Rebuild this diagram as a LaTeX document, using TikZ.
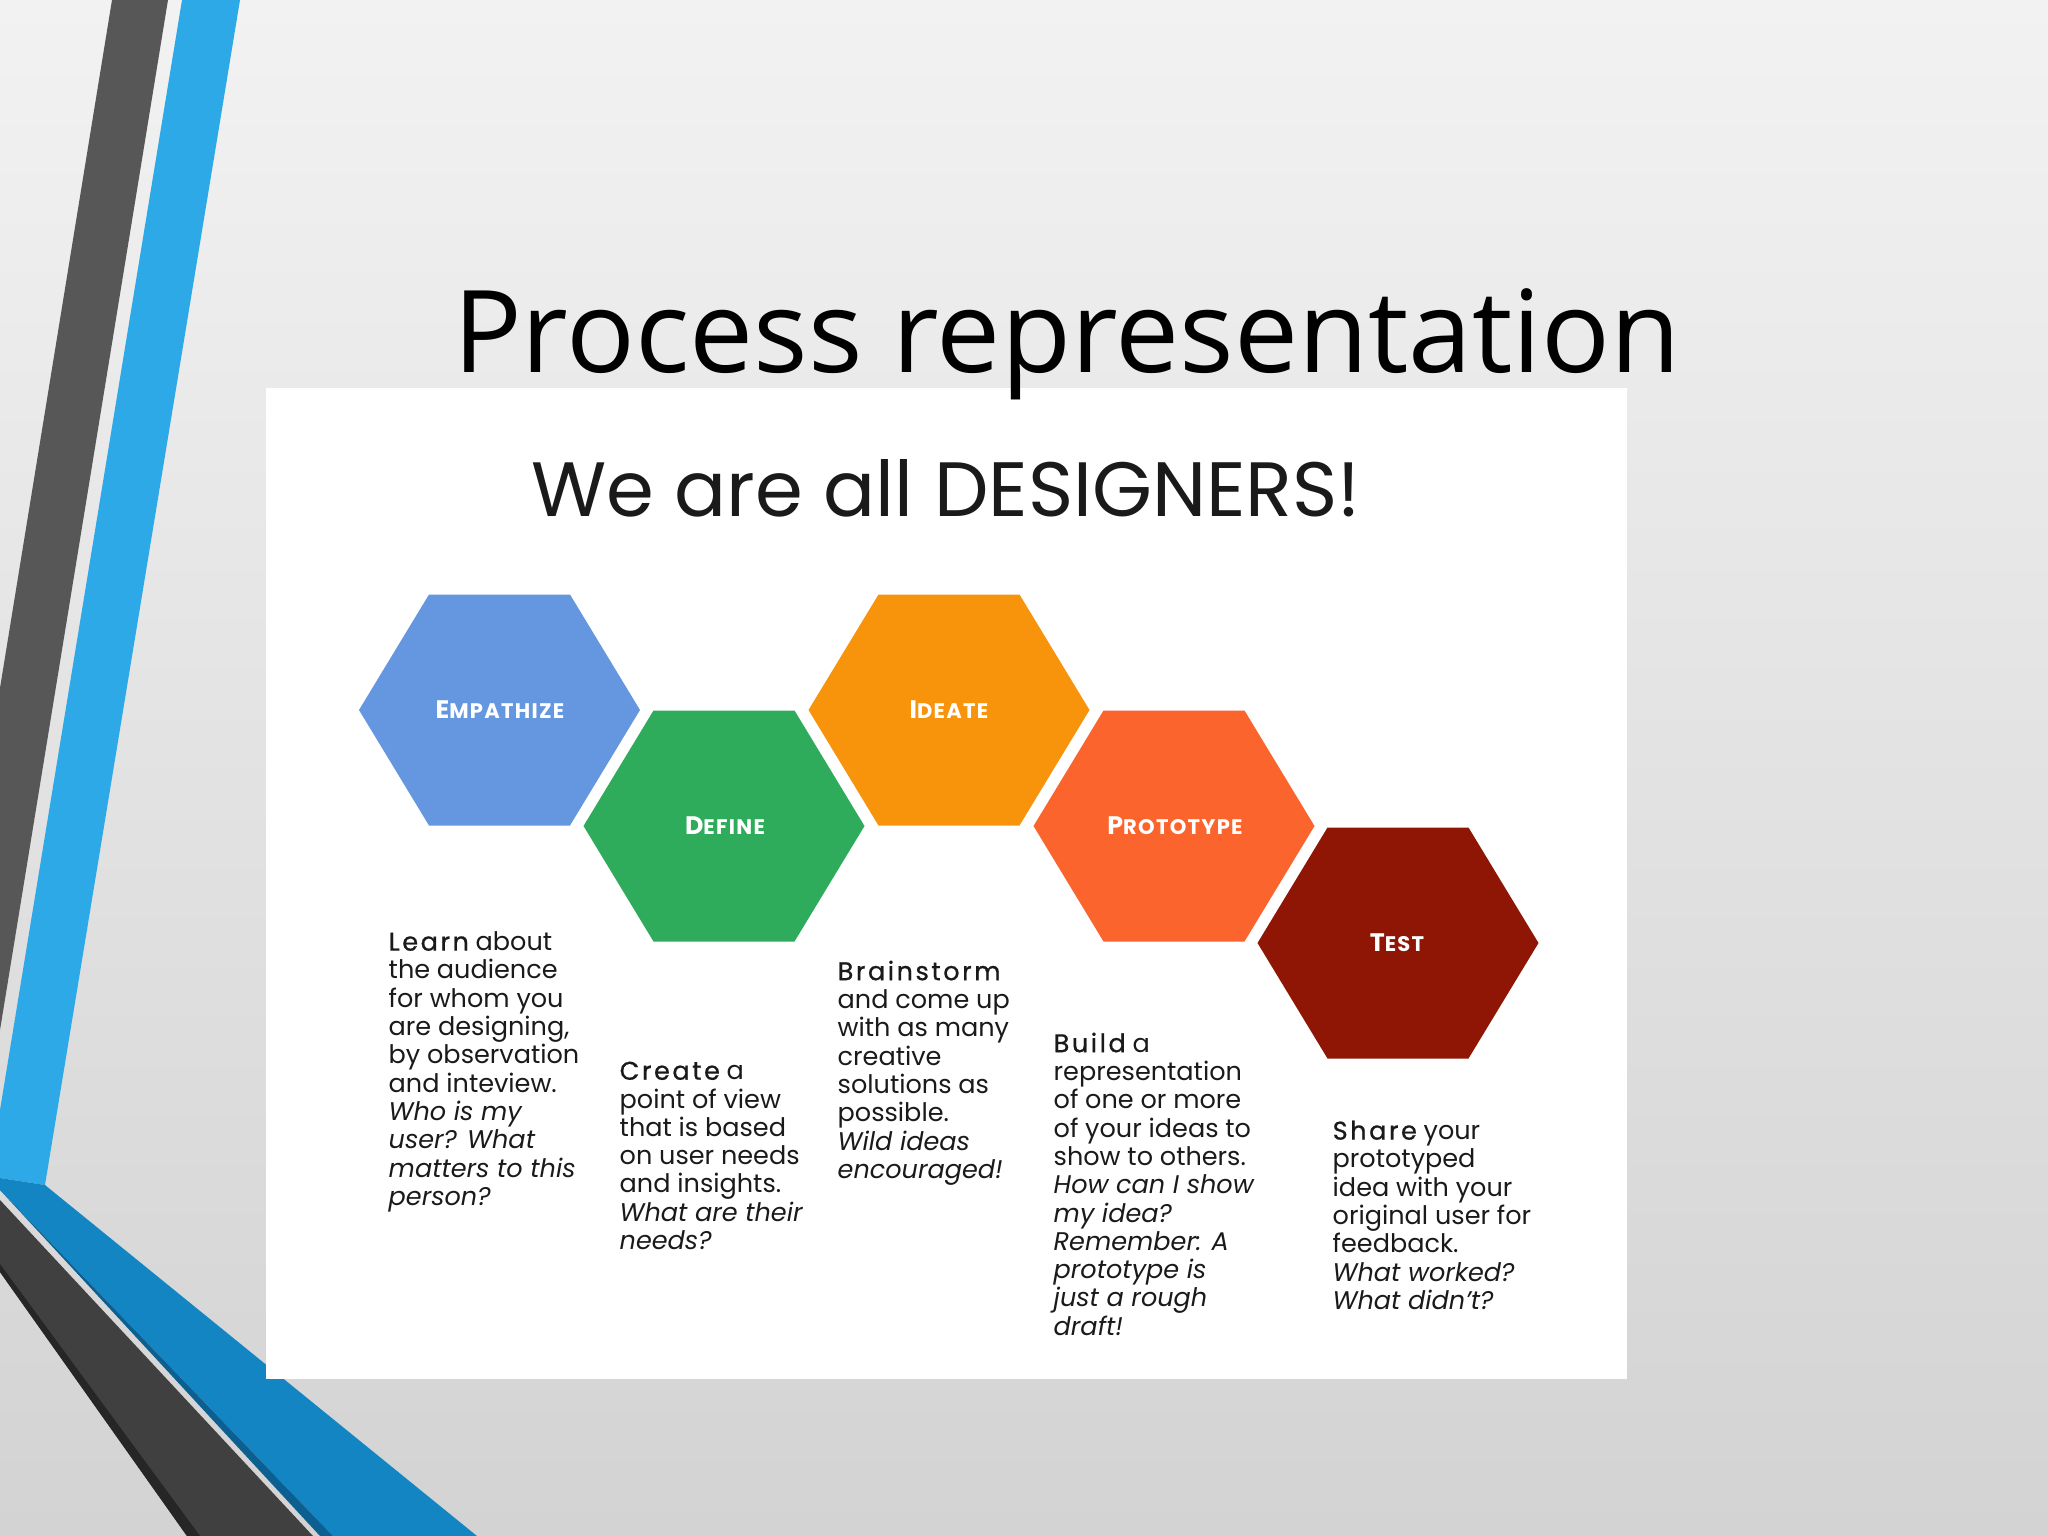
\documentclass[tikz,border=0pt]{standalone}
\usepackage{fontspec}
\setmainfont{Poppins}
\newfontfamily\titlefont{Open Sans}
\newfontfamily\leadfont{Poppins}[FakeBold=0.8,LetterSpace=10]
\newfontfamily\hexfont{Poppins}[LetterSpace=6]
\definecolor{bgtop}{HTML}{F2F2F2}
\definecolor{bgbot}{HTML}{D3D3D3}
\definecolor{stripdark}{HTML}{575757}
\definecolor{stripblue}{HTML}{2EA9E7}
\definecolor{banddblue}{HTML}{1485C3}
\definecolor{bandnavy}{HTML}{0B5F91}
\definecolor{bandgray}{HTML}{404040}
\definecolor{bandshadow}{HTML}{262626}
\definecolor{empc}{HTML}{6597E0}
\definecolor{defc}{HTML}{2FAB5C}
\definecolor{idec}{HTML}{F7940C}
\definecolor{proc}{HTML}{FC642D}
\definecolor{tstc}{HTML}{8F1505}
\definecolor{txt}{HTML}{1A1A1A}
\newcommand\hexshape[3]{\fill[#3,shift={(#1,#2)}] (-140.5,0) -- (-70.5,-115.5) -- (70.5,-115.5) -- (140.5,0) -- (70.5,115.5) -- (-70.5,115.5) -- cycle;}
\newcommand\hxl[2]{{\fontsize{7.2}{8}\selectfont #1}{\fontsize{6.0}{8}\selectfont #2}}
\newcommand\lead[1]{{\leadfont #1}}
\tikzset{
  hexlabel/.style={inner sep=0, text=white, font=\hexfont\bfseries},
  body/.style={anchor=north west, inner sep=0, align=left, text=txt, font=\fontsize{7.26}{8.05}\selectfont}
}
\begin{document}
\begin{tikzpicture}[x=0.01cm,y=-0.01cm]
\useasboundingbox (0,0) rectangle (2048,1536);
\shade[top color=bgtop,bottom color=bgbot] (0,0) rectangle (2048,1536);
% decorative stripes
\fill[stripdark] (112,0) -- (168,0) -- (0,1030) -- (0,688) -- cycle;
\fill[stripblue] (182,0) -- (240,0) -- (45,1185) -- (0,1178) -- (0,1110) -- cycle;
\fill[banddblue] (0,1178) -- (45,1185) -- (477,1536) -- (333,1536) -- (0,1190) -- cycle;
\fill[bandnavy] (0,1190) -- (333,1536) -- (320,1536) -- cycle;
\fill[bandgray] (0,1200) -- (313,1536) -- (187,1536) -- (0,1272) -- cycle;
\fill[bandshadow] (0,1264) -- (200,1536) -- (187,1536) -- (0,1272) -- cycle;
% white panel
\fill[white] (266,388) rectangle (1627,1379);
% title
\node[font=\titlefont\fontsize{32.5}{38}\selectfont, anchor=base, inner sep=0, text=black] (title) at (1067,372) {Process representation};
\node[font=\fontsize{21.9}{26}\selectfont, anchor=base, inner sep=0, text=txt] (head) at (946,516) {We are all DESIGNERS!};
% hexagons
\hexshape{499.5}{710}{empc}
\hexshape{724}{826}{defc}
\hexshape{949}{710}{idec}
\hexshape{1174}{826}{proc}
\hexshape{1398}{943}{tstc}
\node[hexlabel] (emp) at (500,710) {\hxl{E}{MPATHIZE}};
\node[hexlabel] (def) at (725,826) {\hxl{D}{EFINE}};
\node[hexlabel] (ide) at (949,710) {\hxl{I}{DEATE}};
\node[hexlabel] (pro) at (1175,826) {\hxl{P}{ROTOTYPE}};
\node[hexlabel] (tst) at (1397,943) {\hxl{T}{EST}};
% descriptions
\node[body] (tEmp) at (388,931) {\lead{Learn} about\\the audience\\for whom you\\are designing,\\by observation\\and inteview.\\\textit{Who is my}\\\textit{user? What}\\\textit{matters to this}\\\textit{person?}};
\node[body] (tDef) at (619,1061) {\lead{Create} a\\point of view\\that is based\\on user needs\\and insights.\\\textit{What are their}\\\textit{needs?}};
\node[body] (tIde) at (837,960) {\lead{Brainstorm}\\and come up\\with as many\\creative\\solutions as\\possible.\\\textit{Wild ideas}\\\textit{encouraged!}};
\node[body] (tPro) at (1053,1032) {\lead{Build} a\\representation\\of one or more\\of your ideas to\\show to others.\\\textit{How can I show}\\\textit{my idea?}\\\textit{Remember: A}\\\textit{prototype is}\\\textit{just a rough}\\\textit{draft!}};
\node[body] (tTst) at (1332,1120) {\lead{Share} your\\prototyped\\idea with your\\original user for\\feedback.\\\textit{What worked?}\\\textit{What didn’t?}};
\end{tikzpicture}
\end{document}
